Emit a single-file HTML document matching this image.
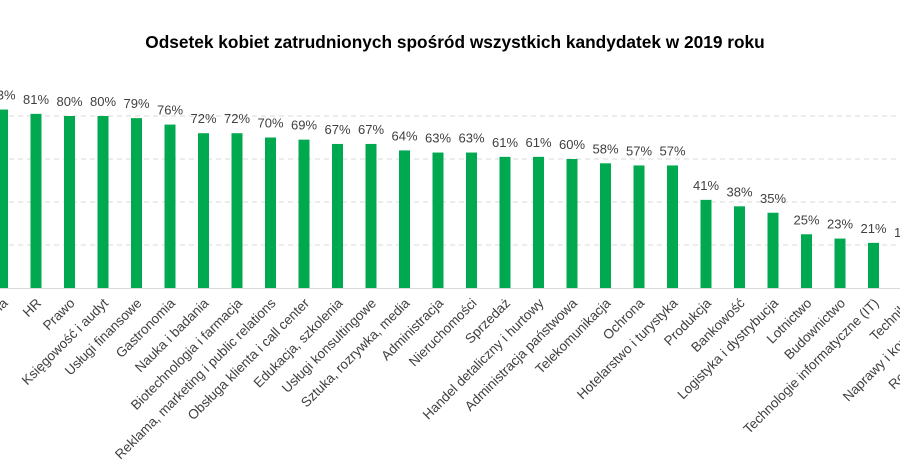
<!DOCTYPE html>
<html><head><meta charset="utf-8"><style>
html,body{margin:0;padding:0;background:#fff;}
svg{display:block;font-family:"Liberation Sans","DejaVu Sans",sans-serif;}
</style></head><body>
<svg width="900" height="473" viewBox="0 0 900 473">
<text x="455" y="48" text-anchor="middle" font-size="17.3" font-weight="bold" fill="#000">Odsetek kobiet zatrudnionych spośród wszystkich kandydatek w 2019 roku</text>
<g id="grid"></g><g id="bars"></g><g id="vals"></g><g id="cats"></g>
</svg>
<script>
const categories=["Medycyna","HR","Prawo","Księgowość i audyt","Usługi finansowe","Gastronomia","Nauka i badania","Biotechnologia i farmacja","Reklama, marketing i public relations","Obsługa klienta i call center","Edukacja, szkolenia","Usługi konsultingowe","Sztuka, rozrywka, media","Administracja","Nieruchomości","Sprzedaż","Handel detaliczny i hurtowy","Administracja państwowa","Telekomunikacja","Ochrona","Hotelarstwo i turystyka","Produkcja","Bankowość","Logistyka i dystrybucja","Lotnictwo","Budownictwo","Technologie informatyczne (IT)","Technika","Naprawy i konserwacja","Rolnictwo, leśnictwo"];
const values=[83,81,80,80,79,76,72,72,70,69,67,67,64,63,63,61,61,60,58,57,57,41,38,35,25,23,21,19,15,12];
const gridTicks=[20,40,60,80];
const NS="http://www.w3.org/2000/svg";
const baseY=288, pxPer=2.15, x0=2.5, step=33.5, bw=11;
const y=v=>baseY-v*pxPer, x=i=>x0+i*step;
function mk(t,a,p){const e=document.createElementNS(NS,t);for(const k in a)e.setAttribute(k,a[k]);p.appendChild(e);return e;}
const G=document.getElementById('grid'),B=document.getElementById('bars'),V=document.getElementById('vals'),C=document.getElementById('cats');
gridTicks.forEach(t=>{const l=mk('line',{x1:0,x2:900,y1:y(t),y2:y(t),stroke:'#d9d9d9','stroke-dasharray':'5,4','stroke-width':1},G);

});
const ax=mk('line',{x1:0,x2:900,y1:baseY+0.5,y2:baseY+0.5,stroke:'#d9d9d9','stroke-width':1},G);


values.forEach((v,i)=>{
const cx=x(i);
const r=mk('rect',{x:cx-bw/2,y:y(v),width:bw,height:v*pxPer,fill:'#00a94f'},B);


const t=mk('text',{x:cx,y:y(v)-10,'text-anchor':'middle','font-size':13,fill:'#404040'},V);
t.textContent=v+'%';


const c=mk('text',{x:cx+6,y:304,'text-anchor':'end','font-size':13.5,fill:'#404040',transform:`rotate(-45 ${cx+6} 304)`},C);
c.textContent=categories[i];


});
</script>
</body></html>
